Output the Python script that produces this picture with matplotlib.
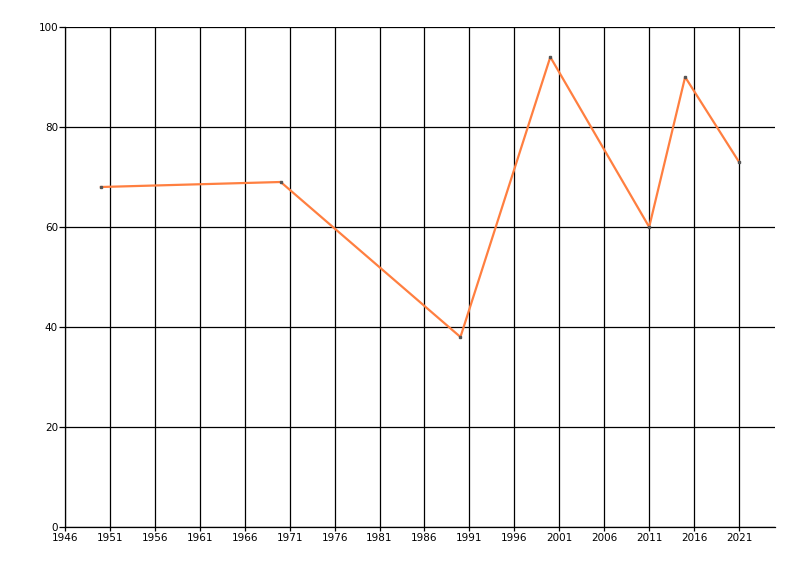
import matplotlib
matplotlib.use("Agg")
import matplotlib.pyplot as plt

years = [1950, 1970, 1990, 2000, 2011, 2015, 2021]
values = [68, 69, 38, 94, 60, 90, 73]
xticks = list(range(1946, 2022, 5))
yticks = [0, 20, 40, 60, 80, 100]

fig = plt.figure(figsize=(8, 5.76), dpi=100)
ax = fig.add_axes([65/800, 49/576, 710/800, 500/576])

ax.plot(years, values, color="#FF7F40", lw=1.6, zorder=3)
ax.plot(years, values, ls="none", marker="s", ms=1.5, color="#555555", zorder=4)

ax.set_xlim(1946, 2025)
ax.set_ylim(0, 100)
ax.set_xticks(xticks)
ax.set_yticks(yticks)
ax.grid(True, color="black", lw=0.9)
ax.set_axisbelow(True)

for s in ["top", "right"]:
    ax.spines[s].set_visible(False)
for s in ["left", "bottom"]:
    ax.spines[s].set_linewidth(0.9)
ax.tick_params(axis="both", labelsize=7.5, colors="black", length=4, width=0.9, pad=1)
ax.tick_params(axis="x", length=3)

fig.savefig("out.png", dpi=100)
